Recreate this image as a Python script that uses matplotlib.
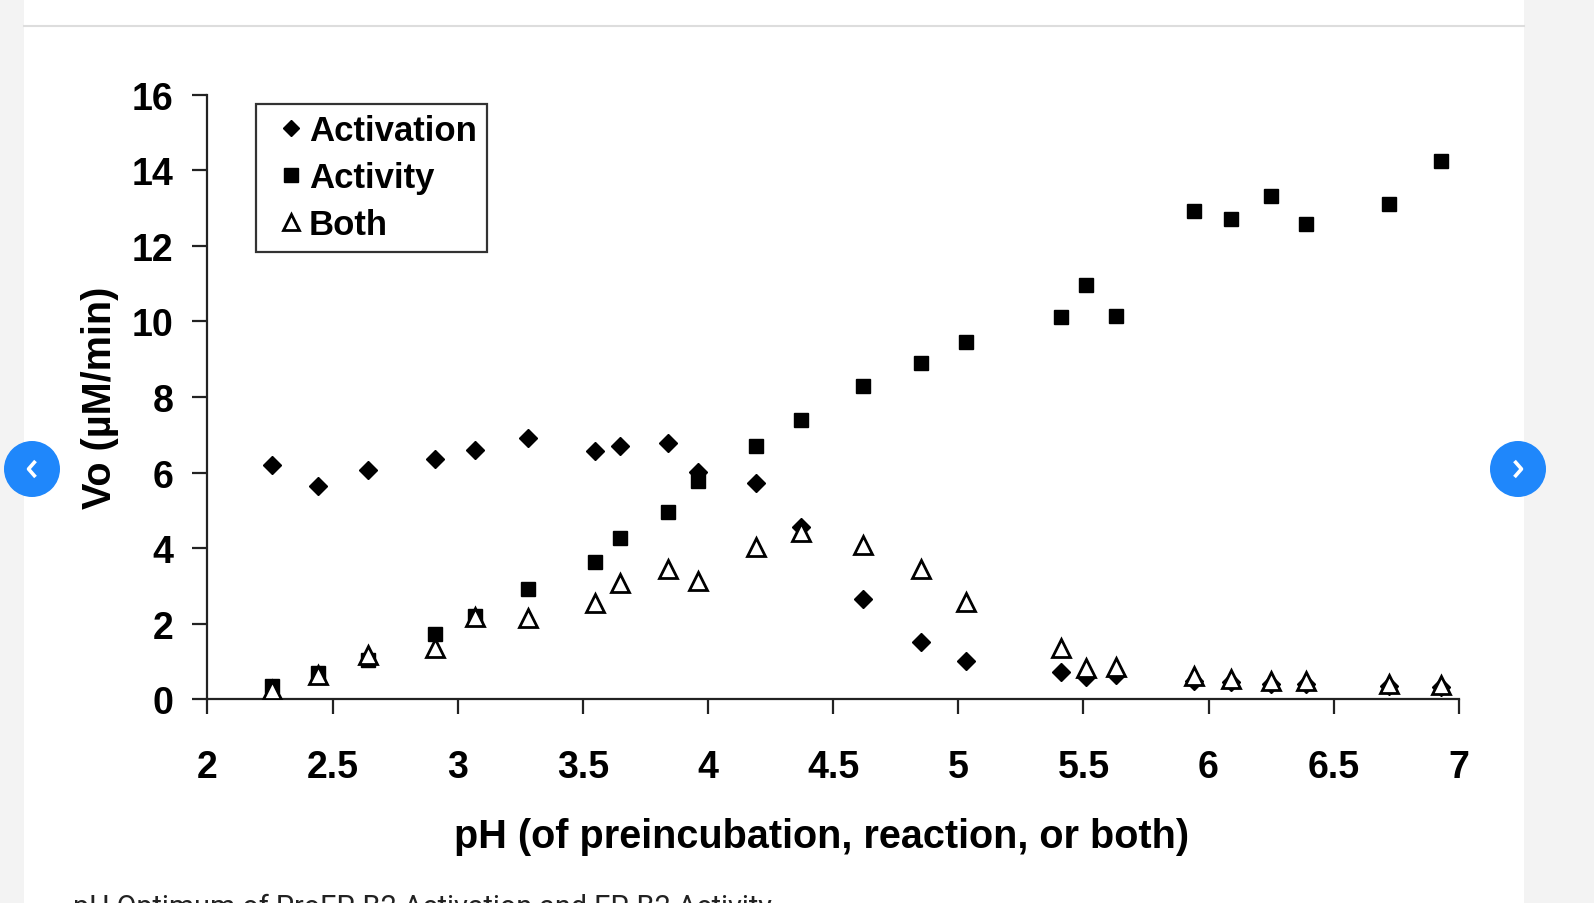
import matplotlib
matplotlib.use("Agg")
import matplotlib.pyplot as plt
from matplotlib.patches import Rectangle, Circle
from matplotlib.ticker import FuncFormatter

# data
ph = [2.26, 2.44, 2.64, 2.91, 3.07, 3.28, 3.55, 3.65, 3.84, 3.96, 4.19, 4.37,
      4.62, 4.85, 5.03, 5.41, 5.51, 5.63, 5.94, 6.09, 6.25, 6.39, 6.72, 6.93]
activation = [6.21, 5.65, 6.08, 6.35, 6.61, 6.91, 6.56, 6.70, 6.78, 6.02, 5.73, 4.55,
              2.66, 1.53, 1.02, 0.73, 0.59, 0.65, 0.50, 0.45, 0.42, 0.42, 0.35, 0.33]
activity = [0.35, 0.70, 1.05, 1.72, 2.20, 2.93, 3.63, 4.28, 4.97, 5.78, 6.70, 7.39,
            8.28, 8.90, 9.46, 10.11, 10.97, 10.14, 12.91, 12.72, 13.31, 12.58, 13.10, 14.25]
both = [0.24, 0.65, 1.18, 1.37, 2.18, 2.15, 2.55, 3.09, 3.44, 3.12, 4.03, 4.44,
        4.09, 3.44, 2.58, 1.37, 0.83, 0.86, 0.62, 0.54, 0.48, 0.48, 0.40, 0.38]

xticks = [2, 2.5, 3, 3.5, 4, 4.5, 5, 5.5, 6, 6.5, 7]
yticks = [0, 2, 4, 6, 8, 10, 12, 14, 16]

caption = "pH Optimum of ProEP-B2 Activation and EP-B2 Activity"

W, H = 1594, 904
plt.rcParams['font.family'] = ['Liberation Sans', 'DejaVu Sans']
fig = plt.figure(figsize=(W / 100, H / 100), dpi=100, facecolor='#f3f3f3')

# page background: white card, separator line, nav buttons, caption
bg = fig.add_axes([0, 0, 1, 1], zorder=0)
bg.set_xlim(0, W)
bg.set_ylim(H, 0)
bg.axis('off')
bg.add_patch(Rectangle((24, 0), 1500, H, facecolor='white', edgecolor='none'))
bg.plot([24, 1524], [26.5, 26.5], color='#dddddd', lw=1.5)
for cx, d in [(32, -1), (1518, 1)]:
    bg.add_patch(Circle((cx, 470), 28, facecolor='#1f87fb', edgecolor='none'))
    bg.plot([cx - 3.5 * d, cx + 3.5 * d, cx - 3.5 * d], [462, 470, 478],
            color='white', lw=2.6, solid_capstyle='butt')
# caption is cut by the bottom edge, as in the screenshot
bg.text(73, 894, caption, fontsize=20.7, va='top', ha='left', color='#222222',
        family=['Roboto', 'DejaVu Sans'])

ax = fig.add_axes([207.4 / W, 1 - 700.4 / H, 1251.4 / W, 604.8 / H], zorder=1)

ax.plot(ph, activation, linestyle='none', marker='D', ms=9, color='black',
        label='Activation', zorder=3)
ax.plot(ph, activity, linestyle='none', marker='s', ms=10.5, color='black',
        label='Activity', zorder=4)
ax.plot(ph, both, linestyle='none', marker='^', ms=13, mfc='white', mec='black',
        mew=2, label='Both', zorder=5)

ax.set_xlim(2, 7)
ax.set_ylim(0, 16)
ax.set_xticks(xticks)
ax.set_yticks(yticks)
ax.xaxis.set_major_formatter(FuncFormatter(lambda v, p: f"{v:g}"))
ax.spines['top'].set_visible(False)
ax.spines['right'].set_visible(False)
for s in ['left', 'bottom']:
    ax.spines[s].set_linewidth(1.6)
    ax.spines[s].set_color('#222222')
ax.tick_params(axis='both', direction='out', length=10.5, width=1.6, color='#222222')
ax.tick_params(axis='x', pad=25, labelsize=27)
ax.tick_params(axis='y', pad=14, labelsize=27)
for lab in ax.get_xticklabels() + ax.get_yticklabels():
    lab.set_fontweight('bold')

ax.set_xlabel('pH (of preincubation, reaction, or both)', fontsize=28.5, fontweight='bold')
ax.set_ylabel('Vo (\u00b5M/min)', fontsize=28.5, fontweight='bold')
ax.xaxis.set_label_coords(0.491, -0.195)
ax.yaxis.set_label_coords(-0.0705, 0.5)

leg = ax.legend(loc='upper left', bbox_to_anchor=(256 / W, 1 - 105 / H),
                bbox_transform=fig.transFigure, borderaxespad=0,
                prop={'weight': 'bold', 'size': 25}, frameon=True, fancybox=False,
                borderpad=0.3, labelspacing=0.4, handlelength=1.42,
                handletextpad=-0.2, markerscale=0.9)
leg.get_frame().set_edgecolor('black')
leg.get_frame().set_linewidth(1.6)

fig.savefig('out.png', dpi=100, facecolor=fig.get_facecolor())
